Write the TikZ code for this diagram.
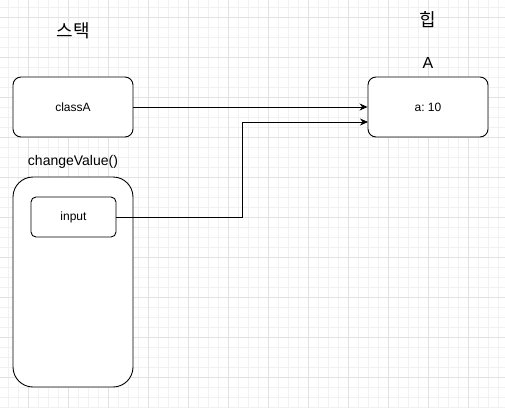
\documentclass[tikz,border=0pt]{standalone}
\usepackage{fontspec}
\setmainfont{Liberation Sans}
\newfontfamily\kofont{Noto Sans CJK KR}
\usetikzlibrary{arrows.meta}
\frenchspacing
\definecolor{gridminor}{HTML}{F1F1F1}
\definecolor{gridmajor}{HTML}{E2E2E2}
\tikzset{
  box/.style={draw, fill=white, line width=0.9pt, rounded corners=8pt,
    minimum width=120pt, minimum height=60pt, font=\fontsize{12}{14}\selectfont},
  frame/.style={draw, fill=white, line width=0.9pt, rounded corners=20pt,
    minimum width=120pt, minimum height=210pt},
  slot/.style={draw, fill=white, line width=0.9pt, rounded corners=5pt,
    minimum width=85pt, minimum height=40pt, font=\fontsize{12}{14}\selectfont},
  title/.style={font=\kofont\fontsize{18}{20}\selectfont},
  caption/.style={font=\fontsize{14}{16}\selectfont},
  ref/.style={-{Stealth[length=8pt,width=7pt]}, line width=0.9pt},
}
\begin{document}
\begin{tikzpicture}[x=1pt,y=-1pt]
  \useasboundingbox (0,0) rectangle (505,408);
  % background grid
  \foreach \x in {8,18,...,498} \draw[gridminor] (\x,0) -- (\x,408);
  \foreach \y in {7,17,...,407} \draw[gridminor] (0,\y) -- (505,\y);
  \foreach \x in {28,68,...,500} \draw[gridmajor] (\x,0) -- (\x,408);
  \foreach \y in {17,57,...,400} \draw[gridmajor] (0,\y) -- (505,\y);
  % stack
  \node[title] (stack) at (73,31) {스택};
  \node[box] (classA) at (73,107) {classA};
  \node[caption] (method) at (73,162) {changeValue()};
  \node[frame] (frame) at (73,282) {};
  \node[slot] (input) at (73.5,217) {input};
  % heap
  \node[title] (heap) at (428,20) {힙};
  \node[font=\fontsize{16}{18}\selectfont] (objname) at (428,63) {A};
  \node[box] (A) at (428,107) {a: 10};
  \coordinate (bend) at (242,122);
  \coordinate (Ain) at (368,122);
  \draw[ref] (classA) -- (A);
  \draw[ref] (input.east) -| (bend) -- (Ain);
\end{tikzpicture}
\end{document}
